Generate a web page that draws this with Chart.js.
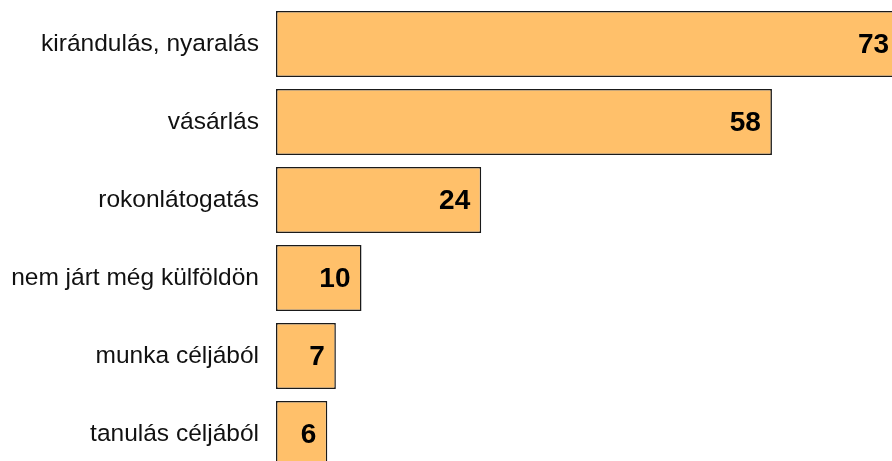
<!DOCTYPE html>
<html>
<head>
<meta charset="utf-8">
<script src="https://cdn.jsdelivr.net/npm/chart.js@4"></script>
<style>
  html, body { margin: 0; padding: 0; background: #fff; overflow: hidden; }
  #wrap { width: 960px; height: 473px; }
</style>
</head>
<body>
<div id="wrap"><canvas id="barChart" width="960" height="473"></canvas></div>
<script>
// ----------------- Data -----------------
const categories = [
    'kirándulás, nyaralás',
    'vásárlás',
    'rokonlátogatás',
    'nem járt még külföldön',
    'munka céljából',
    'tanulás céljából'
];
const values = [73, 58, 24, 10, 7, 6];

// values written at the end of each bar
const valueLabels = {
    id: 'valueLabels',
    afterDatasetsDraw(chart) {
        const ctx = chart.ctx;
        const meta = chart.getDatasetMeta(0);
        ctx.save();
        ctx.font = 'bold 28px "Liberation Sans", Arial, sans-serif';
        ctx.fillStyle = '#000';
        ctx.textAlign = 'right';
        ctx.textBaseline = 'middle';
        meta.data.forEach((bar, i) => {
            ctx.fillText(String(values[i]), bar.x - 11, bar.y + 1);
        });
        ctx.restore();
    }
};

const ctx = document.getElementById('barChart').getContext('2d');
new Chart(ctx, {
    type: 'bar',
    data: {
        labels: categories,
        datasets: [{
            data: values,
            backgroundColor: '#FFC06A',
            borderColor: '#1a1a1a',
            borderWidth: 1.5,
            borderSkipped: false,
            categoryPercentage: 1,
            barPercentage: 0.846
        }]
    },
    options: {
        indexAxis: 'y',
        responsive: false,
        animation: false,
        layout: { padding: { top: 5, right: 0, bottom: 0, left: 0 } },
        plugins: {
            legend: { display: false },
            tooltip: { enabled: false }
        },
        scales: {
            x: {
                display: false,
                min: 0,
                max: 80
            },
            y: {
                grid: { display: false, drawTicks: false },
                border: { display: false },
                ticks: {
                    color: '#111',
                    padding: 17,
                    font: { family: '"Liberation Sans", Arial, sans-serif', size: 24.5 }
                },
                afterFit(scale) {
                    scale.width = 276;
                    scale.paddingTop = 0;
                    scale.paddingBottom = 0;
                }
            }
        }
    },
    plugins: [valueLabels]
});
</script>
</body>
</html>
